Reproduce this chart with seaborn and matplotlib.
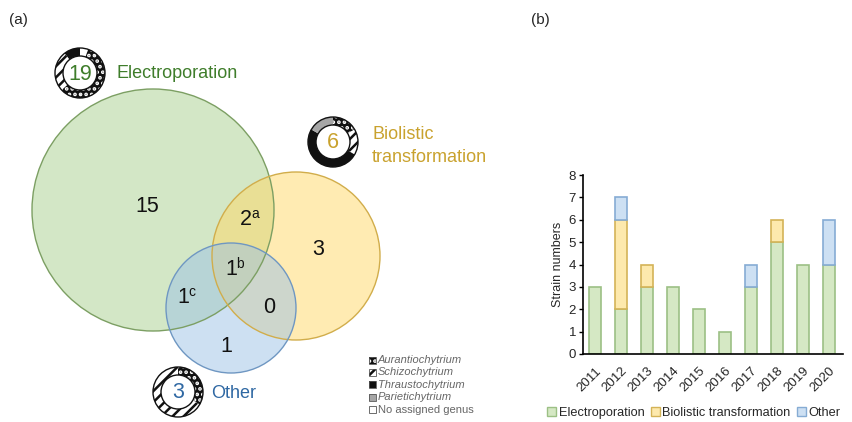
import matplotlib
matplotlib.use("Agg")
import matplotlib.pyplot as plt
from matplotlib.patches import Circle, Wedge, Rectangle, Patch
import pandas as pd
import seaborn as sns

# ---------------- data ----------------
# (a) Venn diagram region counts: E only, E∩B, B only, E∩B∩O, E∩O, B∩O, O only
venn_counts = [15, 2, 3, 1, 1, 0, 1]
venn_notes = ["", "a", "", "b", "c", "", ""]

method_names = ["Electroporation", "Biolistic\ntransformation", "Other"]
method_totals = [19, 6, 3]

genera = ["Aurantiochytrium", "Schizochytrium", "Thraustochytrium",
          "Parietichytrium", "No assigned genus"]

# genus composition of each method (clockwise from 12 o'clock)
electro_genera = ["No assigned genus", "Aurantiochytrium", "Schizochytrium", "Thraustochytrium"]
electro_counts = [1, 11, 5, 2]
biolistic_genera = ["Aurantiochytrium", "Schizochytrium", "Thraustochytrium", "Parietichytrium"]
biolistic_counts = [1, 1, 3, 1]
other_genera = ["Aurantiochytrium", "Schizochytrium"]
other_counts = [1, 2]

# (b) strains per year and method
years = ["2011", "2012", "2013", "2014", "2015", "2016", "2017", "2018", "2019", "2020"]
electroporation = [3, 2, 3, 3, 2, 1, 3, 5, 4, 4]
biolistic = [0, 4, 1, 0, 0, 0, 0, 1, 0, 0]
other = [0, 1, 0, 0, 0, 0, 1, 0, 0, 2]

# ---------------- style ----------------
sns.set_theme(style="white")
plt.rcParams["font.family"] = ["Liberation Sans", "DejaVu Sans"]
plt.rcParams["hatch.linewidth"] = 1.8

fig = plt.figure(figsize=(8.52, 4.22), dpi=100)

# ---------------- (a) Venn diagram ----------------
ax = fig.add_axes([0, 0, 1, 1])
ax.set_xlim(0, 852)
ax.set_ylim(422, 0)
ax.axis("off")
ax.patch.set_visible(False)

circles = [
    ((153, 210), 121, "#a9d08e", "#7c9f63"),
    ((296, 256), 84, "#ffd966", "#d1ad4b"),
    ((231, 308), 65, "#9dc3e6", "#6f97c2"),
]
for (c, r, fc, ec) in circles:
    ax.add_patch(Circle(c, r, facecolor=fc, alpha=0.5, edgecolor="none", zorder=1))
    ax.add_patch(Circle(c, r, facecolor="none", edgecolor=ec, lw=1.0, zorder=2))

# number anchors: (centre x, baseline y)
region_xy = [(147, 212), (246, 225), (318, 255), (231, 275), (183, 303), (269, 313), (226, 352)]
for (x, y), n, note in zip(region_xy, venn_counts, venn_notes):
    ax.text(x, y, str(n), fontsize=15.5, ha="center", va="baseline", color="#111111", zorder=5)
    if note:
        ax.text(x + 5, y - 7, note, fontsize=10, ha="left", va="baseline", color="#111111", zorder=5)

# genus styles: (facecolor, hatch, hatchcolor)
genus_style = {
    "Aurantiochytrium": ("#111111", "...", "white"),
    "Schizochytrium": ("white", "///", "#111111"),
    "Thraustochytrium": ("#111111", None, None),
    "Parietichytrium": ("#a6a6a6", None, None),
    "No assigned genus": ("white", None, None),
}


def draw_ring(center, names, counts, r_out=25, width=8):
    total = sum(counts)
    start = 0.0
    for name, n in zip(names, counts):
        span = 360.0 * n / total
        fc, hatch, hc = genus_style[name]
        t1, t2 = -90 + start, -90 + start + span
        if hatch:
            ax.add_patch(Wedge(center, r_out, t1, t2, width=width, facecolor=fc,
                               edgecolor=hc, hatch=hatch, lw=0, zorder=6))
        else:
            ax.add_patch(Wedge(center, r_out, t1, t2, width=width, facecolor=fc,
                               edgecolor="none", zorder=6))
        start += span
    ax.add_patch(Circle(center, r_out, facecolor="none", edgecolor="#111111", lw=1.0, zorder=7))
    ax.add_patch(Circle(center, r_out - width, facecolor="white", edgecolor="#111111", lw=1.0, zorder=7))


rings = [
    ((80, 73), electro_genera, electro_counts, "#3f7d2b", (116, 73)),
    ((333, 142), biolistic_genera, biolistic_counts, "#c9a22e", (372, 146)),
    ((178, 392), other_genera, other_counts, "#2f68a3", (211, 394)),
]
for (c, names, counts, col, tpos), total, label in zip(rings, method_totals, method_names):
    draw_ring(c, names, counts)
    ax.text(c[0], c[1] + 1, str(total), fontsize=15.5, ha="center", va="center", color=col, zorder=8)
    ax.text(tpos[0], tpos[1], label, fontsize=13, ha="left", va="center", color=col,
            linespacing=1.4, zorder=8)

# genus key
for i, g in enumerate(genera):
    y = 360 + i * 12.4
    fc, hatch, hc = genus_style[g]
    if hatch:
        ax.add_patch(Rectangle((369, y - 3.5), 7, 7, facecolor=fc, edgecolor=hc, hatch=hatch, lw=0, zorder=6))
    else:
        ax.add_patch(Rectangle((369, y - 3.5), 7, 7, facecolor=fc, edgecolor="none", zorder=6))
    ax.add_patch(Rectangle((369, y - 3.5), 7, 7, facecolor="none", edgecolor="#555555", lw=0.6, zorder=7))
    ax.text(378, y, g, fontsize=8, ha="left", va="center", color="#666666",
            style="normal" if g == "No assigned genus" else "italic", zorder=8)

fig.text(18 / 852, 1 - 20 / 422, "(a)", fontsize=11, ha="center", va="center")
fig.text(540 / 852, 1 - 20 / 422, "(b)", fontsize=11, ha="center", va="center")

# ---------------- (b) stacked bars ----------------
bx = fig.add_axes([583 / 852, 1 - 354 / 422, 260 / 852, 179 / 422])
df = pd.DataFrame({"year": years, "Electroporation": electroporation,
                   "Biolistic transformation": biolistic, "Other": other})

series = [
    ("Electroporation", "#d5e8c4", "#9cc085"),
    ("Biolistic transformation", "#fde9ad", "#d4b357"),
    ("Other", "#cde0f3", "#86acd4"),
]
bottom = [0] * len(years)
for name, fc, ec in series:
    sns.barplot(data=df, x="year", y=name, order=years, color=fc, edgecolor=ec,
                linewidth=1.2, width=0.46, bottom=bottom, errorbar=None,
                saturation=1, ax=bx)
    bottom = [b + v for b, v in zip(bottom, df[name])]
for p in list(bx.patches):
    if p.get_height() == 0:
        p.remove()

bx.set_xlim(-0.46, 9.54)
bx.set_ylim(0, 8)
bx.set_yticks(range(0, 9))
bx.set_xlabel("")
bx.set_ylabel("Strain numbers", fontsize=9, labelpad=3)
bx.tick_params(axis="y", labelsize=9.5, left=True, length=3, width=1, color="black", pad=2)
bx.tick_params(axis="x", labelsize=9.5, bottom=False, pad=2)
for lab in bx.get_xticklabels():
    lab.set_rotation(45)
    lab.set_ha("right")
    lab.set_rotation_mode("anchor")
sns.despine(ax=bx)
for s in ["left", "bottom"]:
    bx.spines[s].set_color("black")
    bx.spines[s].set_linewidth(1.2)

handles = [Patch(facecolor=fc, edgecolor=ec, lw=1.0) for _, fc, ec in series]
fig.legend(handles, [s[0] for s in series], loc="center", bbox_to_anchor=(694 / 852, 1 - 413 / 422),
           ncol=3, frameon=False, fontsize=9.2, handlelength=0.7, handleheight=0.7,
           handletextpad=0.2, columnspacing=0.5, borderpad=0)

fig.savefig("out.png", dpi=100)
